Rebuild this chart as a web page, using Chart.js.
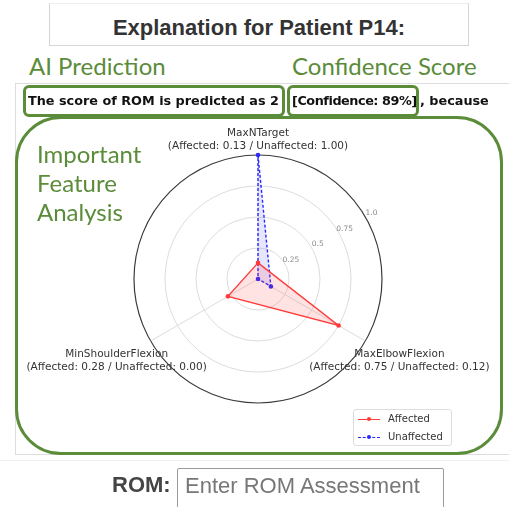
<!DOCTYPE html>
<html>
<head>
<meta charset="utf-8">
<script src="https://cdn.jsdelivr.net/npm/chart.js@4"></script>
<style>
  html, body { margin: 0; padding: 0; background: #fff; }
  #page { position: relative; width: 509px; height: 507px; overflow: hidden; }
  #page div { position: absolute; box-sizing: border-box; }
  #radar { position: absolute; left: 0; top: 0; }
  #titleBox {
    left: 49px; top: 3px; width: 420px; height: 43px;
    border: 1px solid #d6d6d6; border-top-color: #eee;
    font: bold 22px "Liberation Sans", Arial, sans-serif; color: #333;
    text-align: center; line-height: 47px;
  }
  .note { font: 24px Lato, sans-serif; color: #5b8c3a; white-space: nowrap; line-height: 29px; }
  #aiNote { left: 29px; top: 51px; }
  #confNote { left: 292px; top: 51px; }
  #featNote { left: 37px; top: 139px; }
  #figFrame { left: 15px; top: 83px; width: 520px; height: 372px; border: 1px solid #ddd; }
  #sentence {
    left: 0; top: 93px; width: 509px; height: 18px; white-space: nowrap;
    font: bold 12.8px "DejaVu Sans", sans-serif; color: #111;
  }
  #sentence span { position: absolute; top: 0; }
  #s1 { left: 28px; }
  #s2 { left: 292px; letter-spacing: -0.45px; }
  #s3 { left: 420px; }
  .gbox { border: 3px solid #5b8c3a; }
  #predBox { left: 23px; top: 85px; width: 262px; height: 32px; border-radius: 6px; }
  #confBox { left: 287px; top: 85px; width: 132px; height: 32px; border-radius: 6px; }
  #featBox { left: 15px; top: 116px; width: 488px; height: 339px; border-radius: 46px; }
  #legend {
    left: 353px; top: 409px; width: 99px; height: 37px;
    border: 1px solid #ddd; border-radius: 3px; background: #fff;
    font: 10px "DejaVu Sans", sans-serif; color: #333;
  }
  #legend .item { position: relative; height: 17px; margin-top: 1px; }
  #legend .sw { position: absolute; left: 4px; top: 8px; width: 22px; height: 0; }
  #legend .dot { position: absolute; left: 13px; top: 6px; width: 4px; height: 4px; border-radius: 50%; }
  #legend .lab { position: absolute; left: 34px; top: 2px; }
  #sep { left: 0; top: 460px; width: 509px; height: 1px; background: #f0f0f0; }
  #romLabel {
    left: 112px; top: 472px;
    font: bold 22px "Liberation Sans", Arial, sans-serif; color: #444;
  }
  #romInput {
    left: 177px; top: 468px; width: 267px; height: 50px;
    border: 1px solid #9a9a9a; border-radius: 2px;
    font: 22px "Liberation Sans", Arial, sans-serif; color: #777;
    padding: 4px 0 0 7px;
  }
</style>
</head>
<body>
<div id="page">
  <div id="titleBox">Explanation for Patient P14:</div>
  <div class="note" id="aiNote">AI Prediction</div>
  <div class="note" id="confNote">Confidence Score</div>
  <div id="figFrame"></div>
  <canvas id="radar" width="509" height="507"></canvas>
  <div id="sentence"><span id="s1">The score of ROM is predicted as 2</span> <span id="s2">[Confidence: 89%]</span><span id="s3">, because</span></div>
  <div class="gbox" id="predBox"></div>
  <div class="gbox" id="confBox"></div>
  <div class="gbox" id="featBox"></div>
  <div class="note" id="featNote">Important<br>Feature<br>Analysis</div>
  <div id="legend"></div>
  <div id="sep"></div>
  <div id="romLabel">ROM:</div>
  <div id="romInput">Enter ROM Assessment</div>
</div>
<script>
const features = ["MaxNTarget", "MaxElbowFlexion", "MinShoulderFlexion"];
const affected = [0.13, 0.75, 0.28];
const unaffected = [1.0, 0.12, 0.0];
const tickValues = [0.25, 0.5, 0.75, 1.0];
const tickLabels = ["0.25", "0.5", "0.75", "1.0"];

const seriesStyle = [
  { label: "Affected", data: affected, color: "#ff3b3b", fill: "rgba(255, 60, 60, 0.15)", dash: [] },
  { label: "Unaffected", data: unaffected, color: "#2a2aff", fill: "rgba(60, 60, 255, 0.13)", dash: [3, 2] },
];

// feature names with both values underneath, drawn around the outer ring
const featureLabels = {
  id: "featureLabels",
  afterDraw(chart) {
    const scale = chart.scales.r;
    const ctx = chart.ctx;
    const R = scale.drawingArea;
    ctx.save();
    ctx.font = "10.5px 'DejaVu Sans'";
    ctx.fillStyle = "#333";
    ctx.textAlign = "center";
    ctx.textBaseline = "middle";
    features.forEach((name, i) => {
      const dir = scale.getPointPosition(i, 1);
      const out = R + 15 + 28 * Math.abs(Math.cos(dir.angle));
      const pos = scale.getPointPosition(i, out);
      const sub = `(Affected: ${affected[i].toFixed(2)} / Unaffected: ${unaffected[i].toFixed(2)})`;
      ctx.fillText(name, pos.x, pos.y - 6.5);
      ctx.fillText(sub, pos.x, pos.y + 6.5);
    });
    ctx.restore();
  },
};

// radial tick labels placed along a 30 degree line like matplotlib
const radialTicks = {
  id: "radialTicks",
  afterDatasetsDraw(chart) {
    const scale = chart.scales.r;
    const ctx = chart.ctx;
    const a = Math.PI / 6;
    ctx.save();
    ctx.font = "7.5px 'DejaVu Sans'";
    ctx.fillStyle = "#8a8a8a";
    ctx.textAlign = "center";
    ctx.textBaseline = "middle";
    tickValues.forEach((v, i) => {
      const d = scale.getDistanceFromCenterForValue(v) + 7;
      ctx.fillText(tickLabels[i], scale.xCenter + d * Math.cos(a), scale.yCenter - d * Math.sin(a));
    });
    ctx.restore();
  },
};

const ctx = document.getElementById("radar").getContext("2d");

new Chart(ctx, {
  type: "radar",
  data: {
    labels: features,
    datasets: seriesStyle.map((s) => ({
      label: s.label,
      data: s.data,
      borderColor: s.color,
      backgroundColor: s.fill,
      borderWidth: 1.4,
      borderDash: s.dash,
      fill: true,
      pointRadius: 2.3,
      pointBackgroundColor: s.color,
      pointBorderColor: s.color,
      pointBorderWidth: 0,
    })),
  },
  options: {
    responsive: false,
    animation: false,
    layout: {
      padding: { left: 134, top: 155, right: 127, bottom: 104 },
    },
    plugins: {
      legend: { display: false },
      tooltip: { enabled: false },
    },
    scales: {
      r: {
        min: 0,
        max: 1,
        ticks: { stepSize: 0.25, display: false },
        grid: {
          circular: true,
          color: (c) => (c.tick && c.tick.value === 1 ? "#3a3a3a" : "#dcdcdc"),
          lineWidth: (c) => (c.tick && c.tick.value === 1 ? 1.2 : 1),
        },
        angleLines: { color: "#dcdcdc", lineWidth: 1 },
        pointLabels: { display: false },
      },
    },
  },
  plugins: [featureLabels, radialTicks],
});

const legend = document.getElementById("legend");
seriesStyle.forEach((s) => {
  const item = document.createElement("div");
  item.className = "item";
  item.style.position = "relative";
  const border = s.dash.length ? "dashed" : "solid";
  item.innerHTML =
    `<div class="sw" style="border-top:1.3px ${border} ${s.color}"></div>` +
    `<div class="dot" style="background:${s.color}"></div>` +
    `<div class="lab">${s.label}</div>`;
  legend.appendChild(item);
});
</script>
</body>
</html>
